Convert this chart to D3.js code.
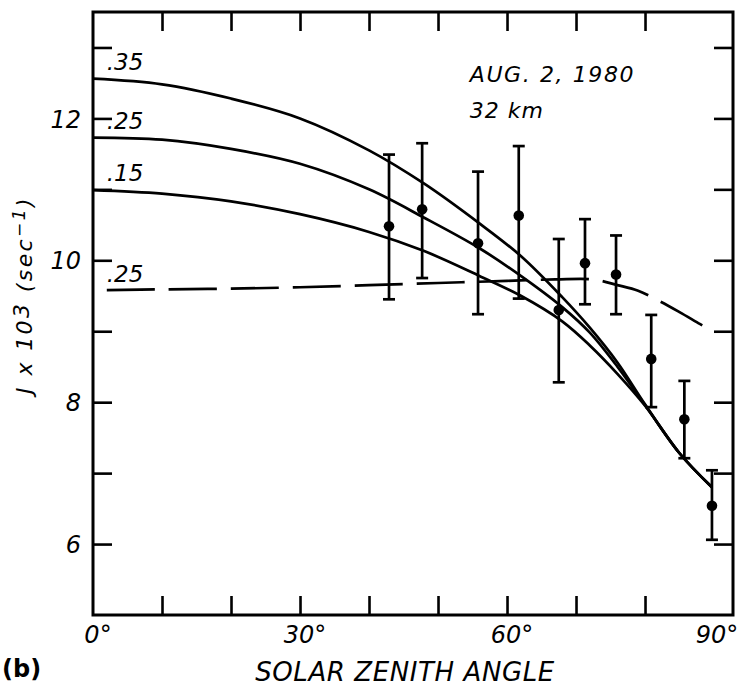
<!DOCTYPE html>
<html>
<head>
<meta charset="utf-8">
<script src="https://cdn.jsdelivr.net/npm/d3@7"></script>
<style>
  body { margin: 0; background: #fff; }
  svg text { font-family: 'DejaVu Sans', sans-serif; fill: #000; }
  .lbl { font-style: italic; }
</style>
</head>
<body>
<svg id="chart" width="747" height="687"></svg>
<script>
// model curves (albedo .35 / .25 / .15), J x 10^3 vs solar zenith angle
const curveAngles = [0, 10, 20, 30, 40, 48, 56, 62, 68, 72, 76, 80, 85, 89.7];
const j35 = [12.56, 12.48, 12.28, 12.0, 11.55, 11.08, 10.52, 10.06, 9.48, 9.05, 8.56, 7.97, 7.28, 6.8];
const j25 = [11.73, 11.70, 11.57, 11.36, 11.0, 10.60, 10.17, 9.78, 9.34, 8.98, 8.50, 7.96, 7.28, 6.8];
const j15 = [10.99, 10.94, 10.83, 10.65, 10.40, 10.13, 9.78, 9.50, 9.14, 8.80, 8.40, 7.95, 7.28, 6.8];

// dashed curve (.25)
const dashAngles = [2, 10, 20, 30, 40, 50, 60, 67, 72.5, 76, 79, 82, 85, 88, 90];
const jDash = [9.58, 9.59, 9.60, 9.62, 9.65, 9.68, 9.71, 9.73, 9.73, 9.65, 9.57, 9.43, 9.27, 9.10, 8.99];

// measurements with error bars
const obsAngle = [42.9, 47.7, 55.8, 61.7, 67.5, 71.3, 75.8, 80.9, 85.7, 89.7];
const obsJ = [10.48, 10.72, 10.24, 10.63, 9.30, 9.96, 9.80, 8.61, 7.76, 6.54];
const obsHigh = [11.49, 11.65, 11.25, 11.61, 10.30, 10.58, 10.35, 9.23, 8.30, 7.04];
const obsLow = [9.45, 9.75, 9.24, 9.46, 8.28, 9.38, 9.24, 7.93, 7.21, 6.06];

const xTicks = [10, 20, 30, 40, 50, 60, 70, 80];
const xLabels = [0, 30, 60, 90];
const yTicks = [6, 7, 8, 9, 10, 11, 12, 13];
const yLabels = [6, 8, 10, 12];

const svg = d3.select('#chart');
const margin = {top: 12, right: 14, bottom: 72, left: 93};
const width = +svg.attr('width');
const height = +svg.attr('height');
const innerWidth = width - margin.left - margin.right;
const innerHeight = height - margin.top - margin.bottom;

const xScale = d3.scaleLinear().domain([0, 92.75]).range([0, innerWidth]);
const yScale = d3.scaleLinear().domain([5, 13.5]).range([innerHeight, 0]);

const g = svg.append('g')
    .attr('transform', `translate(${margin.left}, ${margin.top})`);

// frame
g.append('rect')
    .attr('width', innerWidth)
    .attr('height', innerHeight)
    .attr('fill', 'none')
    .attr('stroke', '#000')
    .attr('stroke-width', 3);

const tickLen = 19;
const styleAxis = sel => {
    sel.select('.domain').remove();
    sel.selectAll('.tick line').attr('stroke', '#000').attr('stroke-width', 2.6);
    // drop the empty labels
    sel.selectAll('.tick text').filter(function() { return this.textContent === ''; }).remove();
    sel.selectAll('.tick text')
        .attr('class', 'lbl')
        .attr('font-size', 24);
};

// left axis
const yAxisG = g.append('g')
    .call(d3.axisLeft(yScale)
        .tickValues(yTicks)
        .tickSize(-tickLen)
        .tickPadding(12)
        .tickFormat(d => yLabels.includes(d) ? d : ''))
    .call(styleAxis);
yAxisG.selectAll('.tick text').attr('dy', '0.36em');

// right axis (ticks only)
g.append('g')
    .attr('transform', `translate(${innerWidth}, 0)`)
    .call(d3.axisRight(yScale).tickValues(yTicks).tickSize(-tickLen).tickFormat(''))
    .call(styleAxis);

// bottom axis ticks
g.append('g')
    .attr('transform', `translate(0, ${innerHeight})`)
    .call(d3.axisBottom(xScale).tickValues(xTicks).tickSize(-tickLen).tickFormat(''))
    .call(styleAxis);

// top axis ticks
g.append('g')
    .call(d3.axisTop(xScale).tickValues(xTicks).tickSize(-tickLen).tickFormat(''))
    .call(styleAxis);

// bottom labels
g.selectAll('.xlab')
    .data(xLabels)
    .enter()
    .append('text')
        .attr('class', 'lbl')
        .attr('font-size', 24)
        .attr('x', d => xScale(d) + (d === 90 ? 3 : 5))
        .attr('y', innerHeight + 28)
        .attr('text-anchor', 'middle')
        .text(d => d + '°');

// curves
const line = d3.line()
    .x(d => xScale(d[0]))
    .y(d => yScale(d[1]))
    .curve(d3.curveCatmullRom.alpha(0.5));

const solid = [
    {name: '.35', values: j35},
    {name: '.25', values: j25},
    {name: '.15', values: j15}
];

solid.forEach(s => {
    g.append('path')
        .attr('d', line(curveAngles.map((a, i) => [a, s.values[i]])))
        .attr('fill', 'none')
        .attr('stroke', '#000')
        .attr('stroke-width', 2.7);
    g.append('text')
        .attr('class', 'lbl')
        .attr('font-size', 23)
        .attr('x', xScale(2))
        .attr('y', yScale(s.values[0]) - 9)
        .text(s.name);
});

g.append('path')
    .attr('d', line(dashAngles.map((a, i) => [a, jDash[i]])))
    .attr('fill', 'none')
    .attr('stroke', '#000')
    .attr('stroke-width', 2.7)
    .attr('stroke-dasharray', '48,14');

g.append('text')
    .attr('class', 'lbl')
    .attr('font-size', 23)
    .attr('x', xScale(2))
    .attr('y', yScale(jDash[0]) - 8)
    .text('.25');

// error bars + points
const obs = obsAngle.map((a, i) => ({a, j: obsJ[i], hi: obsHigh[i], lo: obsLow[i]}));
const capW = 6;
const bars = g.selectAll('.obs').data(obs).enter().append('g')
    .attr('stroke', '#000')
    .attr('stroke-width', 2.7);
bars.append('line')
    .attr('x1', d => xScale(d.a)).attr('x2', d => xScale(d.a))
    .attr('y1', d => yScale(d.hi)).attr('y2', d => yScale(d.lo));
bars.append('line')
    .attr('x1', d => xScale(d.a) - capW).attr('x2', d => xScale(d.a) + capW)
    .attr('y1', d => yScale(d.hi)).attr('y2', d => yScale(d.hi));
bars.append('line')
    .attr('x1', d => xScale(d.a) - capW).attr('x2', d => xScale(d.a) + capW)
    .attr('y1', d => yScale(d.lo)).attr('y2', d => yScale(d.lo));
g.selectAll('.dot').data(obs).enter().append('circle')
    .attr('cx', d => xScale(d.a))
    .attr('cy', d => yScale(d.j))
    .attr('r', 5.3)
    .attr('fill', '#000');

// annotation
const note = g.append('text')
    .attr('class', 'lbl')
    .attr('font-size', 22)
    .attr('x', xScale(54.6))
    .attr('y', 70);
note.append('tspan').attr('letter-spacing', 1.6).text('AUG. 2, 1980');
note.append('tspan').attr('x', xScale(54.6)).attr('dy', 36).attr('letter-spacing', 1).text('32 km');

// y axis title
const yTitle = svg.append('text')
    .attr('class', 'lbl')
    .attr('font-size', 22)
    .attr('letter-spacing', 2.4)
    .attr('text-anchor', 'middle')
    .attr('transform', 'translate(32, 295) rotate(-90)');
yTitle.append('tspan').text('J x 10');
yTitle.append('tspan').attr('dy', -3).text('3');
yTitle.append('tspan').attr('dy', 3).text(' (sec');
yTitle.append('tspan').attr('dy', -7).attr('font-size', 17).text('−1');
yTitle.append('tspan').attr('dy', 7).text(')');

// x axis title
svg.append('text')
    .attr('class', 'lbl')
    .attr('font-size', 26)
    .attr('letter-spacing', 0.6)
    .attr('text-anchor', 'middle')
    .attr('x', 405)
    .attr('y', 681)
    .text('SOLAR ZENITH ANGLE');

svg.append('text')
    .attr('font-family', 'Liberation Sans, sans-serif')
    .attr('font-weight', 'bold')
    .attr('font-size', 24)
    .attr('x', 2)
    .attr('y', 677)
    .text('(b)');
</script>
</body>
</html>
